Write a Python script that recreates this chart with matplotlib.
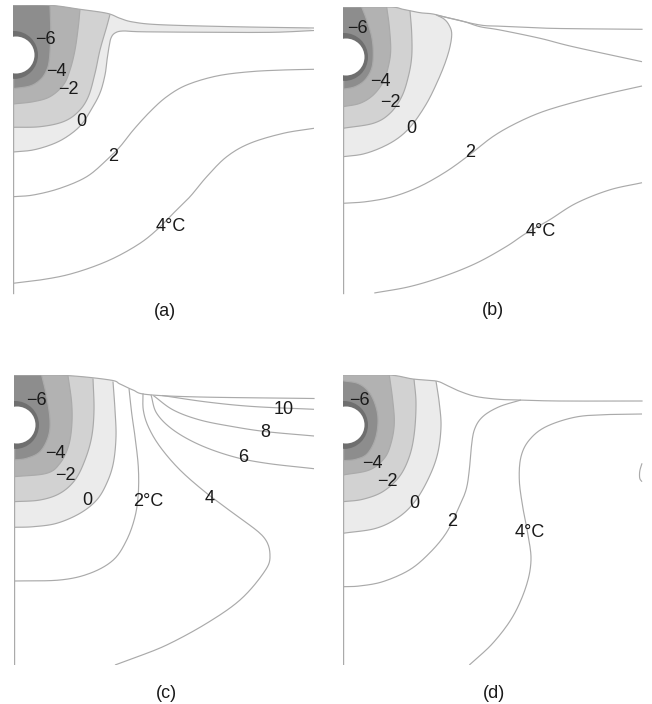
import numpy as np
import matplotlib
matplotlib.use("Agg")
import matplotlib.pyplot as plt
from matplotlib.patches import Polygon, Circle

plt.rcParams['font.family'] = ['Liberation Sans', 'DejaVu Sans']

# ---------------- data (isotherm traces, local panel units, depth downward) ----------------
# Panel (a)
A_SURF = [(0, 0), (37, 0.3), (67, 4.3), (94, 8.3), (107, 13.3), (120, 17), (147, 19.7), (220, 21.7), (301, 23)]
A_M6 = [(0, 83.7), (17, 81), (27, 75), (33, 66.7), (36.3, 55), (37.7, 28.3), (37, 0.3)]
A_M4 = [(0, 99), (20.3, 96.7), (37, 91.7), (50.3, 80), (57, 65), (62, 45), (65.3, 21.7), (67, 4.3)]
A_M2 = [(0, 122.3), (27, 121.7), (50.3, 116.7), (65.3, 106.7), (75.3, 91.7), (82, 68.3), (87, 45), (93.7, 21.7), (97, 9.4)]
A_Z0 = [(0, 147), (20, 145), (40, 139), (55, 131), (68, 120), (78, 105), (87, 88), (92, 70), (94, 55), (96, 42),
        (98, 33), (102, 28), (110, 26), (130, 26.8), (200, 27.3), (260, 27.3), (301, 25.5)]
A_P2 = [(0, 191.7), (20.3, 190), (47, 183.3), (73.7, 171.7), (93.7, 155), (107, 141.7), (120.3, 125), (137, 106.7),
        (153.7, 91.7), (173.7, 80), (203.7, 71), (237, 66.7), (270.3, 65), (301, 64.3)]
A_P4 = [(0, 278.3), (27, 275), (53.7, 270), (80.3, 261.7), (103.7, 251.7), (127, 238.3), (143.7, 225), (160.3, 208.3),
        (177, 191.7), (193.7, 171.7), (213.7, 151.7), (237, 138.3), (270.3, 128.3), (301, 123.3)]
A_LABELS = [('−6', 32.7, 34.3), ('−4', 43.7, 66.7), ('−2', 55.3, 85), ('0', 68, 116.7), ('2', 100.3, 151.7), ('4°C', 157.7, 221.7)]

# Panel (b)
B_SURF = [(0, 0), (47, 0), (60, 2.3), (77, 5.7), (90, 7), (107, 11.3), (137, 18), (157, 19.2), (197, 21), (230, 21.7), (299, 22.3)]
B_M6 = [(0, 82.3), (12, 79.7), (22, 73), (28.7, 61.3), (30.3, 46.3), (28.7, 29.7), (23.7, 13), (18.7, 0)]
B_M4 = [(0, 99.7), (17, 96.3), (30.3, 88), (40.3, 74.7), (45.3, 59.7), (47.7, 43), (46.3, 19.7), (43.7, 0)]
B_M2 = [(0, 121.3), (30.3, 116.3), (47, 106.3), (58.7, 89.7), (65.3, 69.7), (68.7, 49.7), (68.7, 26.3), (67, 3.6)]
B_Z0 = [(0, 149.7), (20.3, 147), (40.3, 139.7), (57, 129.7), (70.3, 116.3), (83.7, 96.3), (93.7, 76.3), (102, 56.3),
        (107, 39.7), (108.7, 26.3), (106, 18), (101, 12), (93, 7.8)]
B_LOW = [(95, 8.5), (120, 14.3), (137, 19.7), (157, 23), (197, 31.3), (230, 39.7), (299, 54.7)]
B_P2 = [(0, 196.3), (23, 194.7), (49.7, 189.7), (76.3, 179.7), (103, 164.7), (126.3, 148), (149.7, 129.7), (173, 116.3),
        (199.7, 104.7), (233, 94.7), (266.3, 86.3), (299, 79)]
B_P4 = [(31.3, 286), (66.3, 279.7), (99.7, 269.7), (133, 256.3), (163, 239.7), (183, 226.3), (206.3, 213), (233, 196.3),
        (266.3, 183), (299, 175.7)]
B_LABELS = [('−6', 14.7, 21.3), ('−4', 37.7, 74.7), ('−2', 47, 95.7), ('0', 68.7, 121.3), ('2', 127.3, 145.7), ('4°C', 198, 224.7)]

# Panel (c)
C_SURF = [(0, 0), (52, 0.5), (96, 5), (106, 9), (119, 15), (133, 19.5), (186, 22), (300, 23.5)]
C_M6 = [(0, 85), (12.7, 83.3), (26, 76.7), (34.3, 61.7), (36, 45), (32.7, 21.7), (27.7, 0.3)]
C_M4 = [(0, 101.7), (32.7, 98.3), (46, 88.3), (54.3, 71.7), (57.7, 51.7), (57.7, 28.3), (54, 0.6)]
C_M2 = [(0, 126.7), (26, 125), (46, 118.3), (61, 105), (71, 85), (77.7, 61.7), (80, 35), (79, 3.4)]
C_Z0 = [(0, 152.3), (19.3, 151.7), (42.7, 148.3), (66, 138.3), (82.7, 125), (92.7, 108.3), (99.3, 88.3), (102, 61.7),
        (101, 35), (99, 6.5)]
C_P2 = [(0, 206), (46, 205), (76, 198.3), (99.3, 185), (112.7, 165), (121, 141.7), (124.3, 118.3), (124.3, 91.7),
        (121, 61.7), (117.7, 38.3), (115, 13.5)]
C_P4 = [(101, 290), (119.3, 283.3), (152.7, 270), (192.7, 248.3), (226, 225), (249.3, 198.3), (256, 181.7),
        (249.3, 161.7), (219.3, 138.3), (192.7, 118.3), (166, 95), (146, 71.7), (134.3, 51.7), (129.3, 35), (129, 18.3)]
C_P6 = [(137, 19.8), (142.7, 38.3), (159.3, 55), (186, 70), (219.3, 81.7), (252.7, 88.3), (300, 93.7)]
C_P8 = [(139.3, 20.5), (159.3, 35), (186, 45), (219.3, 51.7), (252.7, 56.7), (300, 61)]
C_P10 = [(148, 20.5), (193, 27), (239, 31.5), (300, 34.3)]
C_LABELS = [('−6', 22.7, 25.7), ('−4', 41, 78.3), ('−2', 51, 101), ('0', 73.3, 125.7), ('2°C', 134.3, 126.7),
            ('4', 196, 123.3), ('6', 228.7, 82.3), ('8', 251, 57.7), ('10', 269.3, 35)]

# Panel (d)
D_SURF = [(0, 0), (46, 0), (70, 4), (93, 6), (103, 10), (116, 16), (133, 21.5), (156, 24.3), (176, 25), (216, 26), (299, 26)]
D_M6 = [(0, 5.7), (16.3, 9), (28, 20), (34.7, 40), (33, 61.7), (24.7, 78.3), (13, 84.3), (0, 85.7)]
D_M4 = [(0, 100), (26.3, 95), (41.3, 83.3), (48, 68.3), (51.3, 48.3), (49.7, 25), (46.3, 0)]
D_M2 = [(0, 126.7), (19.7, 124.3), (39.7, 116.7), (56.3, 101.7), (66.3, 81.7), (71.3, 58.3), (73, 28.3), (71, 4)]
D_Z0 = [(0, 158.3), (33, 153.3), (56.3, 141.7), (73, 125), (86.3, 101.7), (94.7, 78.3), (98, 51.7), (96.3, 28.3), (93, 6)]
D_P2 = [(0, 211.7), (16.3, 211), (39.7, 206.7), (66.3, 195), (86.3, 178.3), (103, 158.3), (114.7, 135), (123, 115),
        (126.3, 95), (128, 75), (131.3, 55), (139.7, 41.7), (156.3, 31.7), (178, 25)]
D_P4 = [(299, 39), (266.3, 39.5), (233, 42), (203, 51.7), (186.3, 65), (178, 81.7), (176.3, 105), (179.7, 131.7),
        (184.7, 158.3), (188, 185), (183, 211.7), (169.7, 241.7), (149.7, 268.3), (126.3, 290)]
D_ARC = [(299, 88.3), (297, 95), (296.5, 100), (297, 104), (299, 106.7)]
D_LABELS = [('−6', 16.3, 25.7), ('−4', 29.7, 89), ('−2', 44.7, 106.7), ('0', 71.3, 129), ('2', 109, 146), ('4°C', 186.3, 157.3)]

# pipe (cold source) geometry: (centre x, centre y, radius)
PIPE_FROZEN = (1, 50, 24)
PIPE_HOLE = (3, 50, 18.5)
DEPTHS = {'a': 288, 'b': 286, 'c': 290, 'd': 290}
PANEL_NAMES = ['(a)', '(b)', '(c)', '(d)']

# ---------------- styling ----------------
COL_RING = '#6f6f6f'
COL_M6 = '#8d8d8d'
COL_M4 = '#b2b2b2'
COL_M2 = '#d2d2d2'
COL_Z0 = '#ebebeb'
LINE_C = '#aaaaaa'
TXT_C = '#1a1a1a'
FS = 13


def smooth(pts, n=14):
    p = np.asarray(pts, float)
    if len(p) < 3:
        return p
    P = np.vstack([2 * p[0] - p[1], p, 2 * p[-1] - p[-2]])
    out = []
    t = np.linspace(0, 1, n, endpoint=False)[:, None]
    for i in range(1, len(P) - 2):
        p0, p1, p2, p3 = P[i - 1], P[i], P[i + 1], P[i + 2]
        seg = 0.5 * ((2 * p1) + (-p0 + p2) * t + (2 * p0 - 5 * p1 + 4 * p2 - p3) * t ** 2
                     + (-p0 + 3 * p1 - 3 * p2 + p3) * t ** 3)
        out.append(seg)
    out.append(p[-1:])
    return np.vstack(out)


def region(contour, surface):
    c = smooth(contour)
    if abs(c[-1, 0]) < 1e-6:  # closed against the left edge
        return c
    s = smooth(surface)
    back = s[s[:, 0] < c[-1, 0]][::-1]
    return np.vstack([c, back, [[0, 0]]])


W_PX, H_PX = 652, 704
fig = plt.figure(figsize=(W_PX / 100, H_PX / 100), dpi=100)

panels = [
    dict(key='a', left=13, top=5, surf=A_SURF, fills=[A_Z0, A_M2, A_M4, A_M6],
         lines=[A_M6, A_M4, A_M2, A_Z0, A_P2, A_P4], labels=A_LABELS),
    dict(key='b', left=343, top=7, surf=B_SURF, fills=[B_Z0, B_M2, B_M4, B_M6],
         lines=[B_M6, B_M4, B_M2, B_Z0, B_LOW, B_P2, B_P4], labels=B_LABELS),
    dict(key='c', left=14, top=375, surf=C_SURF, fills=[C_Z0, C_M2, C_M4, C_M6],
         lines=[C_M6, C_M4, C_M2, C_Z0, C_P2, C_P4, C_P6, C_P8, C_P10], labels=C_LABELS),
    dict(key='d', left=343, top=375, surf=D_SURF, fills=[D_Z0, D_M2, D_M4, D_M6],
         lines=[D_M6, D_M4, D_M2, D_Z0, D_P2, D_P4, D_ARC], labels=D_LABELS),
]
caption_xy = [(165, 311.5), (492.7, 310.5), (166.7, 693.3), (494.3, 693.3)]

AX_W, AX_H = 301, 290
fill_colors = [COL_Z0, COL_M2, COL_M4, COL_M6]

for pnl, name, (cx, cy) in zip(panels, PANEL_NAMES, caption_xy):
    ax = fig.add_axes([pnl['left'] / W_PX, (H_PX - pnl['top'] - AX_H) / H_PX, AX_W / W_PX, AX_H / H_PX])
    ax.set_xlim(0, AX_W)
    ax.set_ylim(AX_H, 0)
    ax.axis('off')

    for cont, col in zip(pnl['fills'], fill_colors):
        ax.add_patch(Polygon(region(cont, pnl['surf']), closed=True, facecolor=col, edgecolor='none', zorder=1))
    fx, fy, fr = PIPE_FROZEN
    ax.add_patch(Circle((fx, fy), fr, facecolor=COL_RING, edgecolor='none', zorder=2))

    for ln in pnl['lines']:
        s = smooth(ln)
        ax.plot(s[:, 0], s[:, 1], color=LINE_C, lw=0.85, zorder=3, solid_capstyle='butt')
    s = smooth(pnl['surf'])
    ax.plot(s[:, 0], s[:, 1], color=LINE_C, lw=0.85, zorder=3)
    ax.plot([0, 0], [fy + fr, DEPTHS[pnl['key']]], color=LINE_C, lw=1.0, zorder=3)

    hx, hy, hr = PIPE_HOLE
    ax.add_patch(Circle((hx, hy), hr, facecolor='white', edgecolor='none', zorder=4))

    for txt, x, y in pnl['labels']:
        ax.text(x, y, txt, fontsize=FS, color=TXT_C, ha='center', va='center', zorder=5)

    fig.text(cx / W_PX, 1 - cy / H_PX, name, fontsize=FS, color=TXT_C, ha='center', va='center')

fig.savefig('out.png', dpi=100, facecolor='white')
